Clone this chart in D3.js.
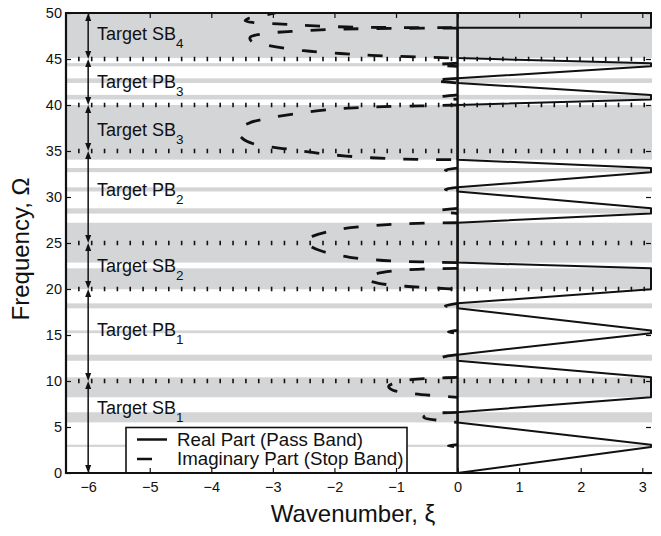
<!DOCTYPE html>
<html><head><meta charset="utf-8">
<script src="https://cdn.jsdelivr.net/npm/d3@7"></script>
<style>body{margin:0;background:#fff} svg{display:block}</style>
</head><body>
<svg id="c" width="661" height="536"></svg>
<script>
// ---------- data ----------
const stopBands = [[2.83,3.08],[5.5,6.6],[8.23,10.4],[12.2,12.86],[15.2,15.5],[17.9,18.44],
  [19.97,22.25],[22.87,27.2],[28.2,28.77],[30.6,31.05],[32.7,33.15],[34.06,40.0],
  [40.6,41.1],[42.4,42.9],[44.2,44.55],[45.1,50]];
const targetEdges = [10,20,25,35,40,45];
const arrowSegments = [[0,10],[10,20],[20,25],[25,35],[35,40],[40,45],[45,50]];
const labelNames = ["SB","PB","SB","PB","SB","PB","SB"];
const labelSubs = ["1","1","2","2","3","3","4"];
const labelOmega = [6.45,14.85,21.9,30.07,36.6,41.85,47.05];
const xTicks = [-6,-5,-4,-3,-2,-1,0,1,2,3];
const yTicks = [0,5,10,15,20,25,30,35,40,45,50];
const PI = Math.PI;
// real part (pass band) polyline
const realXi    = [0,PI,PI,0,0,PI,PI,0,0,PI,PI,0,0,PI,PI,0,0,PI,PI,0,0,PI,PI,0,0,PI,PI,0,0,PI,PI,0,0,PI,PI];
const realOmega = [0,2.83,3.08,5.5,6.6,8.23,10.4,12.2,12.86,15.2,15.5,17.9,18.44,19.97,22.25,22.87,27.2,28.2,28.77,30.6,31.05,32.7,33.15,34.06,40.0,40.6,41.1,42.4,42.9,44.2,44.55,45.1,48.4,48.4,50];
// imaginary part (stop band) curves: [xi, omega]
const imagSB1 = [[0,10.4],[-0.3,10.32],[-0.75,10.15],[-1.0,9.85],[-1.12,9.4],[-1.05,9.0],[-0.8,8.7],[-0.45,8.45],[0,8.23]];
const imagSB2a = [[0,22.25],[-0.5,22.18],[-1.0,22.0],[-1.35,21.6],[-1.48,21.1],[-1.3,20.65],[-0.85,20.3],[-0.3,20.08],[0,19.97]];
const imagSB2b = [[0,27.2],[-0.85,27.1],[-1.45,26.85],[-1.95,26.45],[-2.35,25.75],[-2.48,25.3],[-2.4,24.7],[-2.2,24.1],[-1.75,23.45],[-1.2,23.1],[-0.6,22.95],[0,22.87]];
const imagSB3 = [[0,40.0],[-0.6,39.9],[-1.2,39.82],[-1.6,39.72],[-2.0,39.57],[-2.55,39.13],[-3.05,38.6],[-3.4,38.0],[-3.57,37.2],[-3.5,36.4],[-3.3,35.75],[-2.75,35.2],[-2.2,34.7],[-1.6,34.35],[-1.0,34.15],[-0.5,34.07],[0,34.06]];
const imagSB4a = [[-2.85,50.2],[-3.1,49.8],[-3.38,49.45],[-3.45,49.15],[-3.3,48.95],[-2.85,48.8],[-2.4,48.62],[-1.8,48.48],[-1.1,48.42],[0,48.4]];
const imagSB4b = [[0,48.36],[-1.5,48.3],[-2.1,48.2],[-2.7,48.0],[-3.15,47.75],[-3.37,47.35],[-3.35,46.95],[-3.1,46.5],[-2.5,45.9],[-1.9,45.6],[-1.4,45.4],[-0.8,45.25],[0,45.1]];
const imagSmall = [
  [[0,3.08],[-0.15,2.96],[0,2.83]],
  [[0,6.6],[-0.5,6.35],[-0.55,6.05],[-0.3,5.72],[0,5.5]],
  [[0,12.86],[-0.25,12.55],[0,12.2]],
  [[0,15.5],[-0.15,15.35],[0,15.2]],
  [[0,18.44],[-0.2,18.17],[0,17.9]],
  [[0,28.77],[-0.32,28.5],[0,28.2]],
  [[0,31.05],[-0.2,30.83],[0,30.6]],
  [[0,33.15],[-0.2,32.93],[0,32.7]],
  [[0,41.1],[-0.3,40.85],[0,40.6]],
  [[0,42.9],[-0.4,42.65],[0,42.4]],
  [[0,44.55],[-0.35,44.38],[0,44.2]]
];
const imagCurves = [imagSB1, imagSB2a, imagSB2b, imagSB3, imagSB4a, imagSB4b, ...imagSmall];
const legendLabels = ["Real Part (Pass Band)","Imaginary Part (Stop Band)"];

// ---------- drawing ----------
const svg = d3.select("#c");
const FONT = "'Liberation Sans', Arial, Helvetica, sans-serif";
const L = 66, R = 651, T = 13, B = 473;
const x = d3.scaleLinear().domain([-6.36, PI]).range([L, R]);
const y = d3.scaleLinear().domain([0, 50]).range([B, T]);
const ink = "#111";

svg.append("defs").append("clipPath").attr("id","clip")
  .append("rect").attr("x",L).attr("y",T).attr("width",R-L+1).attr("height",B-T);
const plot = svg.append("g").attr("clip-path","url(#clip)");

// gray bands
plot.selectAll("rect.band").data(stopBands).join("rect").attr("class","band")
  .attr("x", L).attr("width", R - L + 1)
  .attr("y", d => y(d[1])).attr("height", d => y(d[0]) - y(d[1]))
  .attr("fill", "#d4d5d7");

// dotted target lines
plot.selectAll("line.tgt").data(targetEdges).join("line").attr("class","tgt")
  .attr("x1", L - 0.8).attr("x2", R).attr("y1", d => y(d)).attr("y2", d => y(d))
  .attr("stroke", ink).attr("stroke-width", 4.5).attr("stroke-dasharray", "1.6 11.25");

// real part
const realPts = realXi.map((v,i)=>[v, realOmega[i]]);
const lineGen = d3.line().x(d=>x(d[0])).y(d=>y(d[1]));
plot.append("path").attr("d", lineGen(realPts)).attr("fill","none")
  .attr("stroke", ink).attr("stroke-width", 2).attr("stroke-linejoin","round");

// imaginary part
const curveGen = d3.line().x(d=>x(d[0])).y(d=>y(d[1])).curve(d3.curveCatmullRom.alpha(0.5));
plot.selectAll("path.imag").data(imagCurves).join("path").attr("class","imag")
  .attr("d", d => curveGen(d)).attr("fill","none").attr("stroke", ink)
  .attr("stroke-width", 2.8).attr("stroke-dasharray","15 18");

// zero line
plot.append("line").attr("x1", x(0)).attr("x2", x(0)).attr("y1", T).attr("y2", B)
  .attr("stroke", ink).attr("stroke-width", 2.4);

// arrows
const ax = x(-6);
const ag = svg.append("g");
arrowSegments.forEach(([a,b]) => {
  const ya = y(a), yb = y(b), hl = 8, hw = 3;
  ag.append("line").attr("x1",ax).attr("x2",ax).attr("y1",ya - hl + 1).attr("y2",yb + hl - 1)
    .attr("stroke",ink).attr("stroke-width",1.5);
  ag.append("path").attr("d",`M${ax},${ya} L${ax-hw},${ya-hl} L${ax+hw},${ya-hl} Z`).attr("fill",ink);
  ag.append("path").attr("d",`M${ax},${yb} L${ax-hw},${yb+hl} L${ax+hw},${yb+hl} Z`).attr("fill",ink);
});

// labels
const lg = svg.append("g").attr("font-family", FONT).attr("fill", ink);
labelNames.forEach((n,i) => {
  const t = lg.append("text").attr("x", 97).attr("y", y(labelOmega[i])).attr("font-size", 18);
  t.append("tspan").text("Target " + n);
  t.append("tspan").text(labelSubs[i]).attr("font-size", 13.5).attr("dy", 8);
});

// legend
const leg = svg.append("g");
leg.append("rect").attr("x",126).attr("y",427.5).attr("width",281).attr("height",B-427.5)
  .attr("fill","#fff").attr("stroke",ink).attr("stroke-width",1.6);
leg.append("line").attr("x1",137).attr("x2",167).attr("y1",439.5).attr("y2",439.5)
  .attr("stroke",ink).attr("stroke-width",2.5);
leg.append("line").attr("x1",137).attr("x2",167).attr("y1",459).attr("y2",459)
  .attr("stroke",ink).attr("stroke-width",2.5).attr("stroke-dasharray","15 18");
leg.selectAll("text").data(legendLabels).join("text")
  .attr("x",177).attr("y",(d,i)=> i===0 ? 445.5 : 465)
  .attr("font-family",FONT).attr("font-size",18.7).attr("fill",ink).text(d=>d);

// axes
const xAxis = d3.axisBottom(x).tickValues(xTicks).tickSizeInner(-5).tickSizeOuter(0).tickPadding(9);
const gx = svg.append("g").attr("transform",`translate(0,${B})`).call(xAxis);
const yAxis = d3.axisLeft(y).tickValues(yTicks).tickSizeInner(-5).tickSizeOuter(0).tickPadding(4);
const gy = svg.append("g").attr("transform",`translate(${L},0)`).call(yAxis);
// mirrored ticks top/right
const xTop = d3.axisTop(x).tickValues(xTicks).tickSizeInner(-5).tickSizeOuter(0).tickFormat("");
svg.append("g").attr("transform",`translate(0,${T})`).call(xTop);
const yRight = d3.axisRight(y).tickValues(yTicks).tickSizeInner(-5).tickSizeOuter(0).tickFormat("");
svg.append("g").attr("transform",`translate(${R},0)`).call(yRight);
svg.selectAll(".domain").remove();
svg.selectAll(".tick line").attr("stroke",ink).attr("stroke-width",1.2);
svg.selectAll(".tick text").attr("font-family",FONT).attr("font-size",14.5).attr("fill",ink);

// axis frame (left, bottom, top)
svg.append("path").attr("d",`M${R+1},${T} H${L} V${B} H${R+1}`).attr("fill","none")
  .attr("stroke",ink).attr("stroke-width",2.2);

// titles
svg.append("text").attr("x",353).attr("y",522).attr("text-anchor","middle")
  .attr("font-family",FONT).attr("font-size",24).attr("fill",ink).text("Wavenumber, ξ");
svg.append("text").attr("transform","translate(29,249) rotate(-90)").attr("text-anchor","middle")
  .attr("font-family",FONT).attr("font-size",24).attr("fill",ink).text("Frequency, Ω");
</script>
</body></html>
